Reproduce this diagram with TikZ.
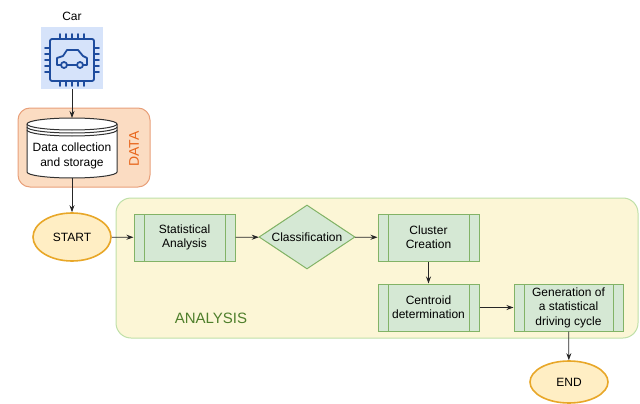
\documentclass[tikz,border=0pt]{standalone}
\usepackage{fontspec}
\setmainfont{Liberation Sans}
\usepackage{tikz}
\usetikzlibrary{shapes.geometric,arrows.meta}
\definecolor{datafill}{HTML}{FBDCC2}
\definecolor{dataline}{HTML}{E8A07A}
\definecolor{datatext}{HTML}{E8661C}
\definecolor{anafill}{HTML}{FCF6D6}
\definecolor{analine}{HTML}{BFE0A8}
\definecolor{anatext}{HTML}{4F7F2C}
\definecolor{procfill}{HTML}{D5E8D4}
\definecolor{procline}{HTML}{82B366}
\definecolor{ellfill}{HTML}{FFEEC4}
\definecolor{ellline}{HTML}{E8A728}
\definecolor{chipbg}{HTML}{D6E3FA}
\definecolor{chipline}{HTML}{1E4C9E}
\newcommand{\nodefont}{\fontsize{12}{14.4}\selectfont}

\begin{document}
\begin{tikzpicture}[x=1pt,y=-1pt,
    arr/.style={-{Stealth[length=7pt,width=5pt]},line width=0.8pt,black!85},
    proc/.style={draw=procline,fill=procfill,line width=1pt,minimum height=47pt,inner sep=0pt,align=center,font=\nodefont,
      path picture={\draw[procline,line width=1pt] ([xshift=10pt]path picture bounding box.north west) -- ([xshift=10pt]path picture bounding box.south west);
        \draw[procline,line width=1pt] ([xshift=-10pt]path picture bounding box.north east) -- ([xshift=-10pt]path picture bounding box.south east);}},
    term/.style={ellipse,draw=ellline,fill=ellfill,line width=1.6pt,minimum width=78pt,inner sep=0pt,font=\nodefont},
    chip/.style={chipline,line width=1.8pt,line cap=round,line join=round}]
    \useasboundingbox (0,0) rectangle (640,404);
    % groups
    \node (data) [draw=dataline,fill=datafill,line width=1pt,rounded corners=12pt,minimum width=132pt,minimum height=79pt] at (84,147.5) {};
    \node (ana) [draw=analine,fill=anafill,line width=1pt,rounded corners=15pt,minimum width=522pt,minimum height=140pt] at (377,268) {};
    \node (datalabel) [rotate=90,text=datatext,font=\fontsize{14}{16}\selectfont] at (134,149) {DATA};
    \node (analabel) [text=anatext,font=\fontsize{15}{17}\selectfont] at (211,318) {ANALYSIS};
    % car chip icon
    \node (carlabel) [font=\nodefont] at (72,16) {Car};
    \node (car) [fill=chipbg,minimum size=62pt,inner sep=0pt] at (72,58) {};
    \draw[chip,rounded corners=2pt] (50,39) rectangle (94,81);
    \foreach \p in {60,66,72,78,84} {
      \draw[chip] (\p,34) -- (\p,39);
      \draw[chip] (\p,81) -- (\p,86);
    }
    \foreach \p in {48,54,60,66,72} {
      \draw[chip] (45,\p) -- (50,\p);
      \draw[chip] (94,\p) -- (99,\p);
    }
    \draw[chip] (61,65) -- (57,65) -- (57,58) -- (63,56) -- (67,50) -- (78,50) -- (83,56) -- (87,58) -- (87,65) -- (83,65);
    \draw[chip] (67,65) -- (77,65);
    \draw[chip] (64,65) circle (3pt);
    \draw[chip] (80,65) circle (3pt);
    % data store
    \draw[black!80,fill=white,line width=1pt] (27,124) -- (27,172) arc[start angle=180,end angle=360,x radius=45pt,y radius=6pt]
      -- (117,124) arc[start angle=0,end angle=180,x radius=45pt,y radius=6pt] -- cycle;
    \foreach \q in {124,127,130}
      \draw[black!80,line width=1pt] (27,\q) arc[start angle=180,end angle=360,x radius=45pt,y radius=6pt];
    \coordinate (storetop) at (72,118);
    \coordinate (storebot) at (72,178);
    \node (store) [align=center,font=\nodefont] at (72,156) {Data collection\\and storage};
    % flow
    \node (start) [term,minimum height=48pt] at (72,237) {START};
    \node (stat) [proc,minimum width=101pt] at (184.5,237.5) {Statistical\\Analysis};
    \node (cls) [diamond,draw=procline,fill=procfill,line width=1pt,aspect=1.5,inner sep=0pt,minimum width=96pt,minimum height=64pt,font=\nodefont] at (307,237) {Classification};
    \node (clu) [proc,minimum width=101pt] at (428.5,237.5) {Cluster\\Creation};
    \node (cen) [proc,minimum width=101pt] at (428.5,307.5) {Centroid\\determination};
    \node (gen) [proc,minimum width=109pt] at (568.5,307.5) {Generation of\\a statistical\\driving cycle};
    \node (fin) [term,minimum height=42pt] at (569,382) {END};
    \draw[arr] (car) -- (storetop);
    \draw[arr] (storebot) -- (start);
    \draw[arr] (start) -- (stat);
    \draw[arr] (stat) -- (cls);
    \draw[arr] (cls) -- (clu);
    \draw[arr] (clu) -- (cen);
    \draw[arr] (cen) -- (gen);
    \draw[arr] (gen) -- (fin);
\end{tikzpicture}
\end{document}
